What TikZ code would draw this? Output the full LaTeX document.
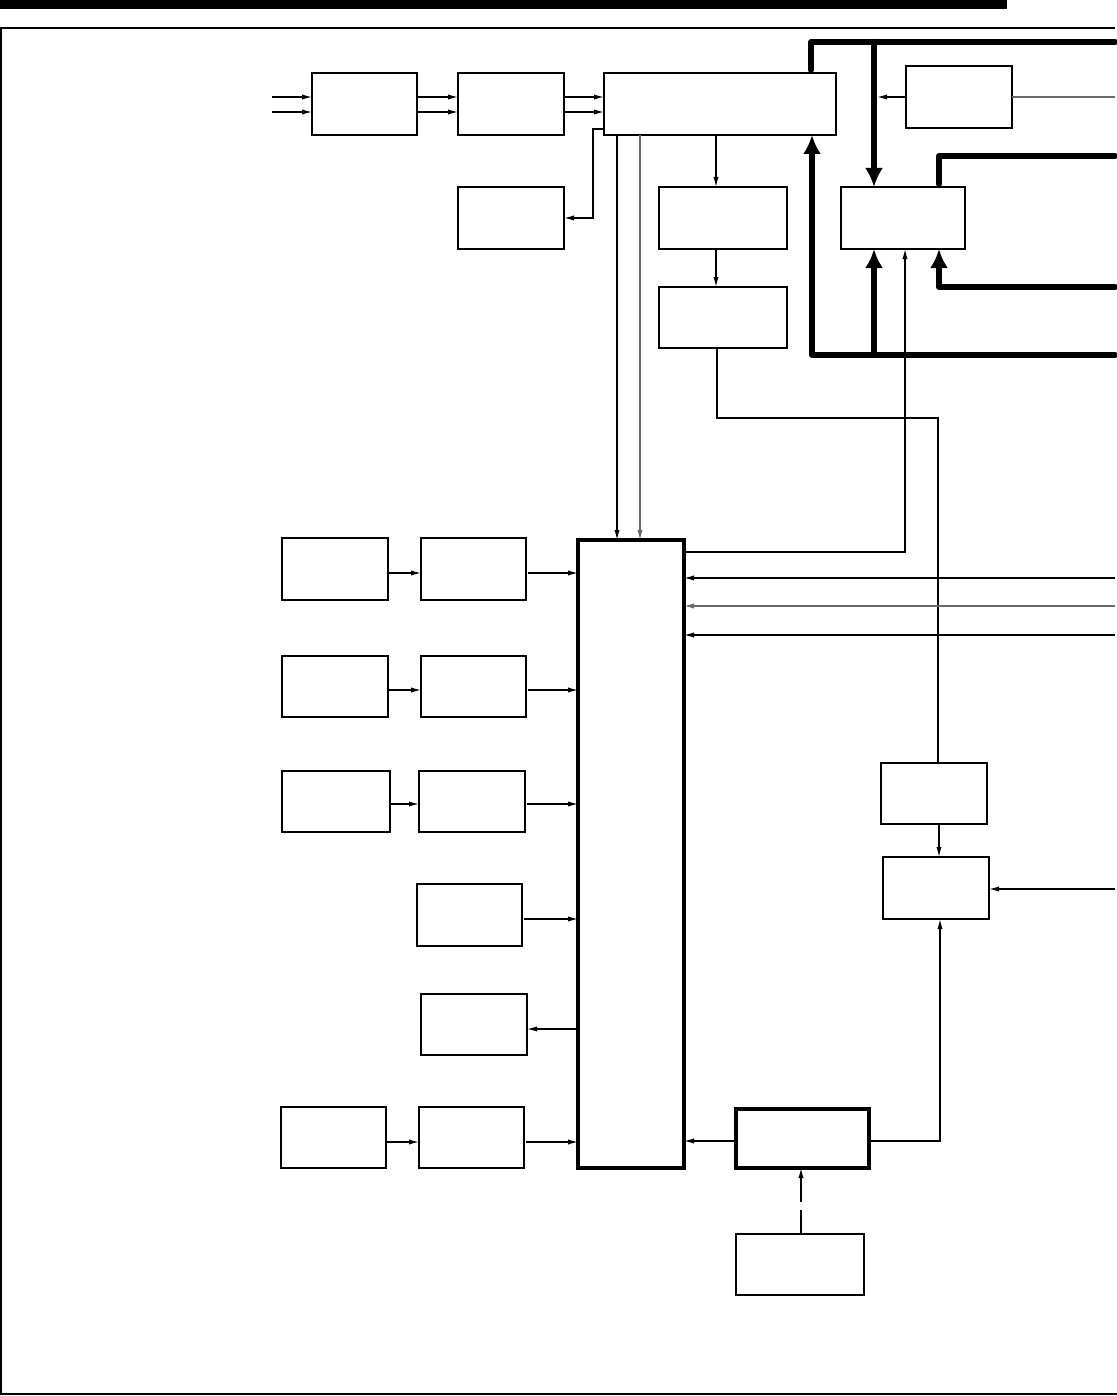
\documentclass[tikz,border=0pt]{standalone}
\usepackage{tikz}
\usetikzlibrary{arrows.meta, fit}
\definecolor{blkEdge}{HTML}{000000}
\definecolor{sigGray}{HTML}{6A6A6A}

\begin{document}
\begin{tikzpicture}[x=0.5pt, y=-0.5pt,
    box/.style={draw=blkEdge, line width=0.9pt, inner sep=0pt, outer sep=0pt},
    heavy/.style={box, line width=1.6pt},
    sig/.style={line width=0.6pt, -{Latex[length=5pt,width=2.6pt]}},
    wire/.style={line width=0.6pt},
    bus/.style={line width=3pt, line cap=round, line join=round},
    busarrow/.style={bus, -{Latex[length=9.5pt,width=9pt]}}]
    \useasboundingbox (0,0) rectangle (1117,1396);
    \fill (0,0) rectangle (1007,9);
    \draw[line width=0.7pt] (1115,28) -- (1,28) -- (1,1394) -- (1117,1394);

    \node[box, fit={(312,73) (417,135)}] (rxA) {};
    \node[box, fit={(458,73) (564,135)}] (rxB) {};
    \node[box, fit={(604,73) (836,135)}] (proc) {};
    \node[box, fit={(906,66) (1012,128)}] (ext) {};
    \node[box, fit={(458,187) (564,249)}] (aux) {};
    \node[box, fit={(659,187) (787,249)}] (decA) {};
    \node[box, fit={(841,187) (965,249)}] (sw) {};
    \node[box, fit={(659,287) (787,348)}] (decB) {};
    \node[heavy, fit={(578,540) (684,1168)}] (core) {};
    \node[box, fit={(282,538) (388,600)}] (s1a) {};
    \node[box, fit={(421,538) (526,600)}] (s1b) {};
    \node[box, fit={(282,656) (388,717)}] (s2a) {};
    \node[box, fit={(421,656) (526,717)}] (s2b) {};
    \node[box, fit={(282,771) (390,832)}] (s3a) {};
    \node[box, fit={(419,771) (525,832)}] (s3b) {};
    \node[box, fit={(417,884) (522,946)}] (s4) {};
    \node[box, fit={(421,994) (527,1055)}] (s5) {};
    \node[box, fit={(281,1107) (386,1168)}] (s6a) {};
    \node[box, fit={(419,1107) (524,1168)}] (s6b) {};
    \node[box, fit={(881,763) (987,824)}] (tim) {};
    \node[box, fit={(883,857) (989,919)}] (cmp) {};
    \node[heavy, fit={(736,1109) (869,1168)}] (drv) {};
    \node[box, fit={(736,1234) (864,1295)}] (src) {};

    \foreach \y in {97,112} {
        \coordinate (in) at (272,\y);
        \draw[sig] (in) -- (in -| rxA.west);
        \draw[sig] (rxA.east |- in) -- (rxB.west |- in);
        \draw[sig] (rxB.east |- in) -- (proc.west |- in);
    }
    \draw[sig] (proc.west |- 0,129) -- ++(-11,0) |- (aux.east);
    \draw[sig] (proc.south -| 716,0) -- (decA.north -| 716,0);
    \draw[sig] (decA.south -| 716,0) -- (decB.north -| 716,0);
    \draw[wire] (decB.south -| 717,0) -- (717,418) -| (tim.north -| 938,0);
    \draw[sig] (proc.south -| 617,0) -- (core.north -| 617,0);
    \draw[sig, sigGray] (proc.south -| 640,0) -- (core.north -| 640,0);

    \draw[sig] (ext.west) -- (877,97);
    \coordinate (extOut) at (1115,97);
    \draw[wire, sigGray] (ext.east) -- (extOut);

    \draw[bus] ([yshift=1.5pt]proc.north -| 811,0) -- (811,42) -- (1115,42);
    \draw[busarrow] (874,42) -- (sw.north -| 874,0);
    \draw[bus] (1115,156) -- (939,156) -- ([yshift=1.5pt]sw.north -| 939,0);
    \draw[busarrow] (1115,287) -- (939,287) -- (sw.south -| 939,0);
    \draw[busarrow] (1115,355) -- (812,355) -- (proc.south -| 812,0);
    \draw[busarrow] (874,355) -- (sw.south -| 874,0);
    \draw[sig] (core.east |- 0,552) -| (sw.south -| 905,0);

    \foreach \y/\c in {578/black, 606/sigGray, 635/black} {
        \coordinate (rin) at (1115,\y);
        \draw[sig, \c] (rin) -- (rin -| core.east);
    }
    \foreach \a/\b/\y in {s1a/s1b/573, s2a/s2b/690, s3a/s3b/804, s6a/s6b/1142} {
        \draw[sig] (\a.east |- 0,\y) -- (\b.west |- 0,\y);
        \draw[sig] ([xshift=1pt]\b.east |- 0,\y) -- (core.west |- 0,\y);
    }
    \draw[sig] ([xshift=1pt]s4.east |- 0,919) -- (core.west |- 0,919);
    \draw[sig] (core.west |- 0,1029) -- (s5.east |- 0,1029);

    \draw[sig] (tim.south -| 939,0) -- (cmp.north -| 939,0);
    \coordinate (cmpIn) at (1115,889);
    \draw[sig] (cmpIn) -- (cmpIn -| cmp.east);
    \draw[sig] (drv.east |- 0,1141) -| (cmp.south -| 940,0);
    \draw[sig] (drv.west |- 0,1141) -- (core.east |- 0,1141);
    \draw[sig, dash pattern=on 12pt off 4pt] (src.north -| 801,0) -- (drv.south -| 801,0);
\end{tikzpicture}
\end{document}
